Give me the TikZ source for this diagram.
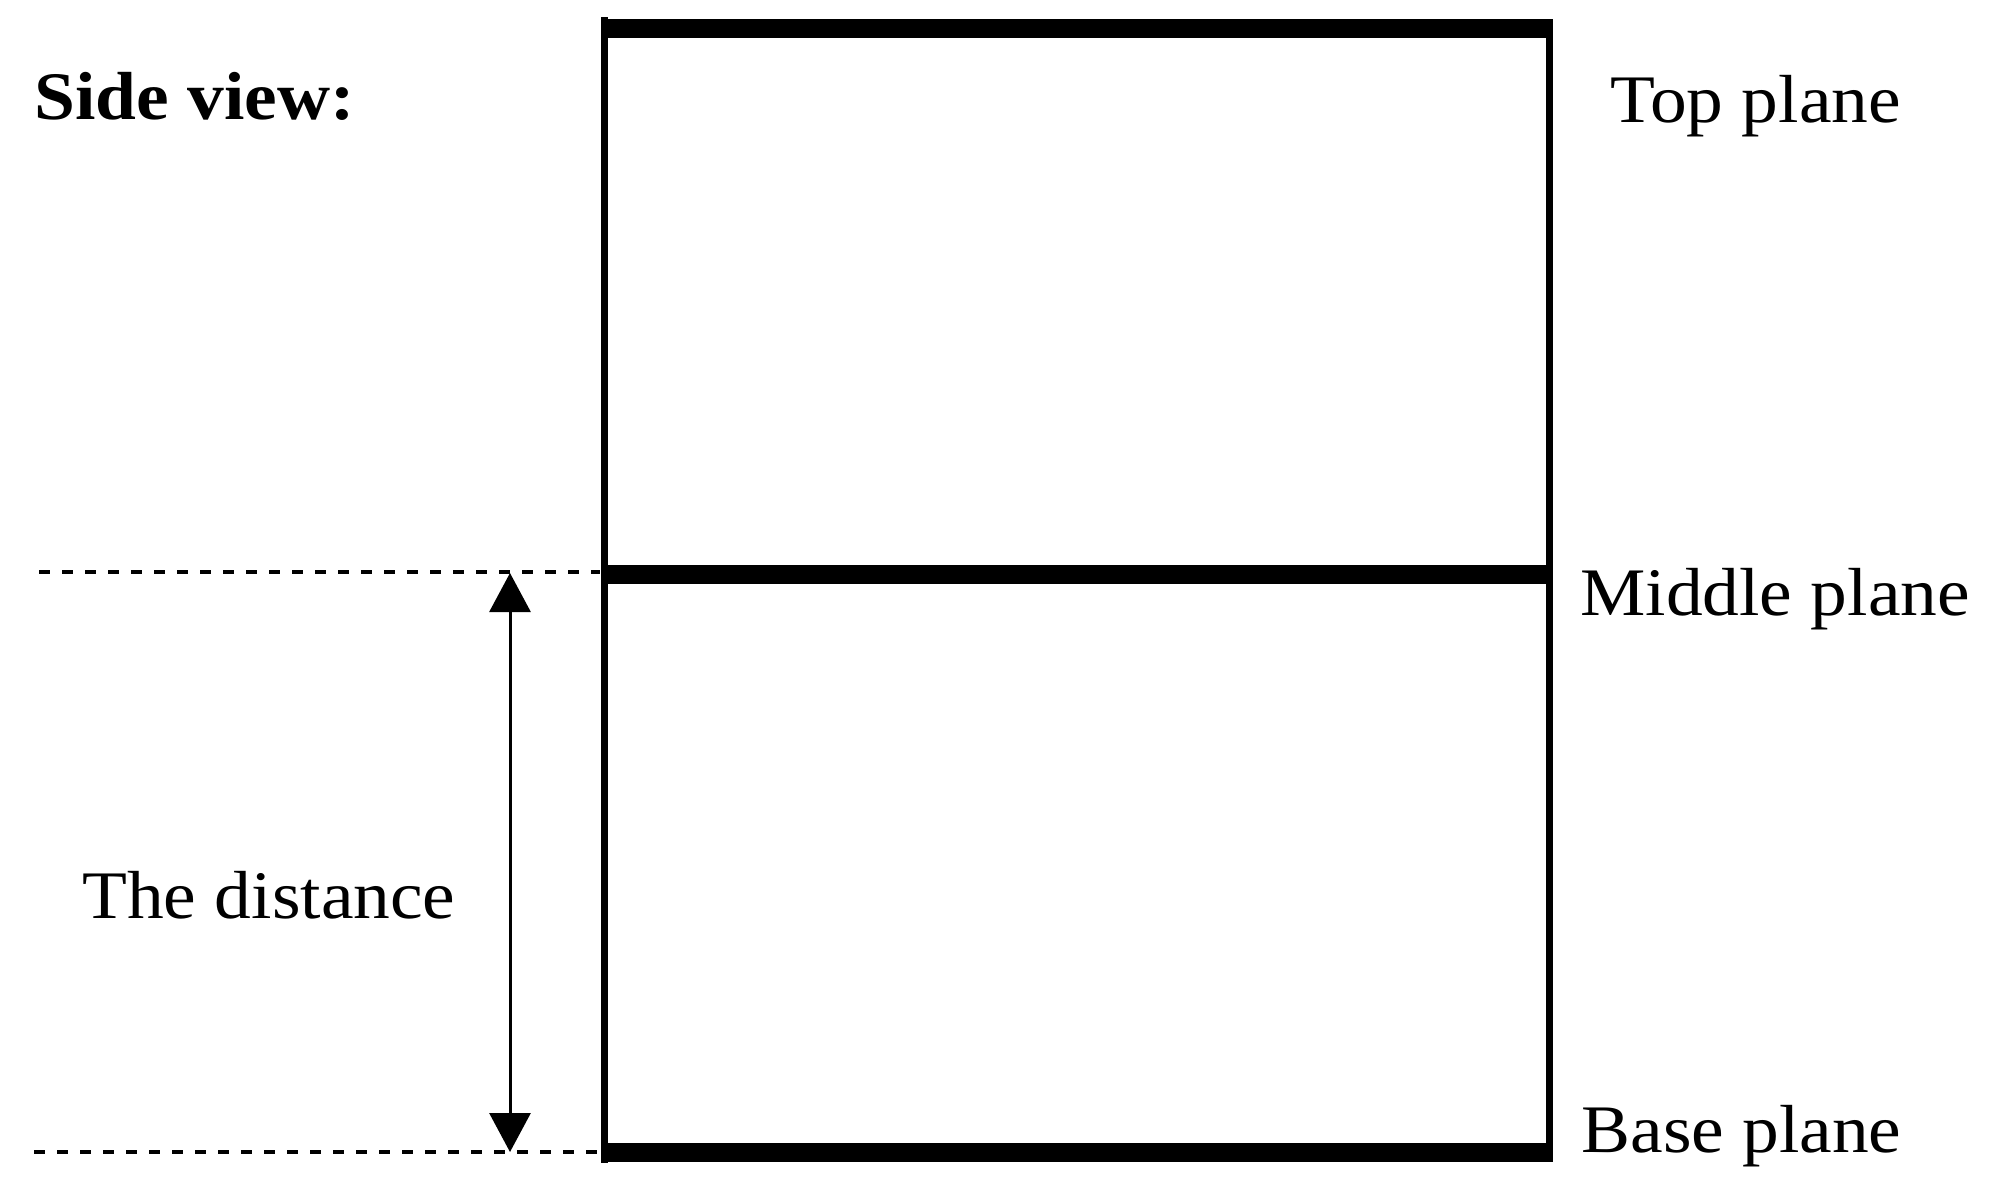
\documentclass[tikz,border=0pt]{standalone}
\usepackage{fontspec}
\setmainfont{Liberation Serif}[FakeStretch=1.08]
\usetikzlibrary{arrows.meta}
\tikzset{
  frameline/.style={line width=3.5pt, line cap=butt},
  planebar/.style={line width=9.5pt, line cap=butt},
  guideline/.style={line width=2pt, dash pattern=on 5.5pt off 6pt},
  dimarrow/.style={line width=1.5pt, {Triangle[length=19.5pt,width=20.5pt]}-{Triangle[length=19.5pt,width=20.5pt]}},
  lbl/.style={anchor=base west, inner sep=0pt, font=\fontsize{34pt}{40pt}\selectfont},
}
\begin{document}
\begin{tikzpicture}[x=0.5pt,y=-0.5pt]
\useasboundingbox (0,0) rectangle (1993,1191);
% frame
\coordinate (lt) at (604,17);
\coordinate (lb) at (604,1163);
\coordinate (rt) at (1549,28);
\coordinate (rb) at (1549,1152);
\draw[frameline] (lt) -- (lb);
\draw[frameline] (rt) -- (rb);
% planes
\coordinate (tl) at (604,28);   \coordinate (tr) at (1553,28);
\coordinate (ml) at (604,574);  \coordinate (mr) at (1553,574);
\coordinate (bl) at (604,1152); \coordinate (br) at (1553,1152);
\draw[planebar] (tl) -- (tr);
\draw[planebar] (ml) -- (mr);
\draw[planebar] (bl) -- (br);
% guides
\coordinate (gm) at (39,572);
\coordinate (gb) at (34,1152);
\draw[guideline] (gm) -- (600,572);
\draw[guideline] (gb) -- (600,1152);
% distance arrow
\coordinate (au) at (510,573);
\coordinate (ad) at (510,1152);
\draw[dimarrow] (au) -- (ad);
% labels
\node[lbl, font=\fontsize{34pt}{40pt}\selectfont\bfseries] (side) at (34,119) {Side view:};
\node[lbl] (top) at (1610,122) {Top plane};
\node[lbl] (mid) at (1580,615) {Middle plane};
\node[lbl] (base) at (1581,1152) {Base plane};
\node[lbl] (dist) at (82,918) {The distance};
\end{tikzpicture}
\end{document}
